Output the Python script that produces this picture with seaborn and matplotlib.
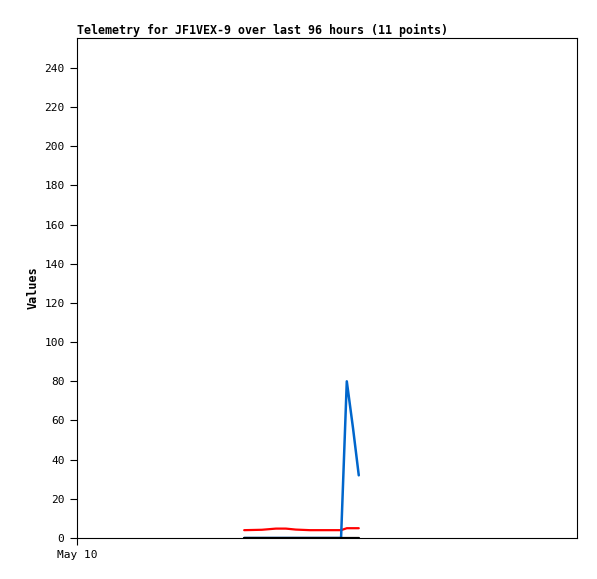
import matplotlib
matplotlib.use("Agg")
import matplotlib.pyplot as plt
import seaborn as sns
import pandas as pd

hours = [32.1, 35.5, 38.2, 40.1, 42.0, 44.7, 47.6, 50.7, 51.8, 53.0, 54.1]
series_blue = [0, 0, 0, 0, 0, 0, 0, 0, 80, 56, 32]
series_red = [4, 4.2, 4.8, 4.8, 4.3, 4, 4, 4, 5, 5, 5]
series_black = [0, 0, 0, 0, 0, 0, 0, 0, 0, 0, 0]
y_ticks = [0, 20, 40, 60, 80, 100, 120, 140, 160, 180, 200, 220, 240]
x_tick_labels = ["May 10"]
x_tick_pos = [0]

rows = []
for name, vals in [("blue", series_blue), ("black", series_black), ("red", series_red)]:
    for h, v in zip(hours, vals):
        rows.append({"hours": h, "value": v, "series": name})
df = pd.DataFrame(rows)

sns.set_style("white")
plt.rcParams["font.family"] = ["DejaVu Sans Mono", "DejaVu Sans"]
plt.rcParams["text.color"] = "black"
plt.rcParams["xtick.color"] = "black"
plt.rcParams["ytick.color"] = "black"
plt.rcParams["axes.labelcolor"] = "black"

fig = plt.figure(figsize=(5.97, 5.79), dpi=100)
ax = fig.add_axes([77/597, 41/579, 500/597, 500/579])

palette = {"blue": "#0066cc", "black": "#000000", "red": "#ff0000"}
widths = {"blue": 1.8, "black": 1.6, "red": 1.6}
zorders = {"red": 2, "blue": 3, "black": 4}
for name in ["red", "blue", "black"]:
    sub = df[df["series"] == name]
    sns.lineplot(data=sub, x="hours", y="value", color=palette[name],
                 linewidth=widths[name], ax=ax, legend=False, zorder=zorders[name])

ax.set_xlim(0, 96)
ax.set_ylim(0, 255.3)
ax.set_yticks(y_ticks)
ax.set_yticklabels([str(t) for t in y_ticks], fontsize=8)
ax.set_xticks(x_tick_pos)
ax.set_xticklabels(x_tick_labels, fontsize=8)
ax.tick_params(axis="both", direction="out", length=5, width=0.8, color="black",
               left=True, bottom=True, pad=4, labelcolor="black")
for s in ax.spines.values():
    s.set_color("black")
    s.set_linewidth(0.8)
ax.set_xlabel("")
ax.set_ylabel("Values", fontsize=8.5, fontweight="bold", labelpad=3, color="black")
ax.set_title("Telemetry for JF1VEX-9 over last 96 hours (11 points)",
             fontsize=8.35, fontweight="bold", loc="left", pad=3, color="black")

fig.savefig("out.png", dpi=100)
